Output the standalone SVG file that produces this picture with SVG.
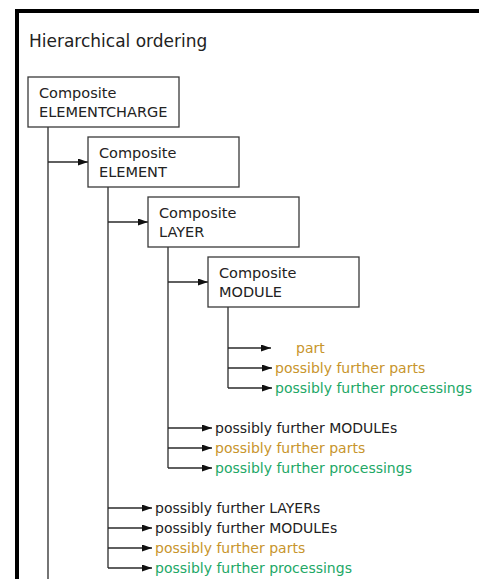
<svg xmlns="http://www.w3.org/2000/svg" width="479" height="579" viewBox="0 0 479 579">
<style>
text{font-family:"DejaVu Sans","Liberation Sans",sans-serif;font-size:14px;fill:#222}
.title{font-size:17px}
.box rect{fill:#fff;stroke:#3a3a3a;stroke-width:1.3}
.box text{font-size:14.5px}
.c{fill:none;stroke:#2a2a2a;stroke-width:1.3}
.a{marker-end:url(#ah)}
.gold{fill:#c8952c}
.green{fill:#22a866}
</style>
<defs>
<marker id="ah" markerUnits="userSpaceOnUse" markerWidth="11" markerHeight="8" refX="10" refY="3.5" orient="auto">
<path d="M0,0 L10,3.5 L0,7 z" fill="#111"/>
</marker>
</defs>
<rect x="0" y="0" width="479" height="579" fill="#fff"/>
<rect x="17" y="11" width="520" height="620" fill="none" stroke="#000" stroke-width="4"/>
<text class="title" x="29" y="47">Hierarchical ordering</text>

<g id="connectors">
<path class="c" d="M48,127 V579"/>
<path class="c a" d="M48,162 H88"/>
<path class="c" d="M108,187 V568"/>
<path class="c a" d="M108,222 H148"/>
<path class="c a" d="M108,508 H152"/>
<path class="c a" d="M108,528 H152"/>
<path class="c a" d="M108,548 H152"/>
<path class="c a" d="M108,568 H152"/>
<path class="c" d="M168,247 V468"/>
<path class="c a" d="M168,282 H208"/>
<path class="c a" d="M168,428 H212"/>
<path class="c a" d="M168,448 H212"/>
<path class="c a" d="M168,468 H212"/>
<path class="c" d="M228,307 V388"/>
<path class="c a" d="M228,348 H271"/>
<path class="c a" d="M228,368 H272"/>
<path class="c a" d="M228,388 H272"/>
</g>

<g id="elementcharge" class="box">
<rect x="28" y="77" width="151" height="50"/>
<text x="39" y="98">Composite</text>
<text x="39" y="117">ELEMENTCHARGE</text>
</g>
<g id="element" class="box">
<rect x="88" y="137" width="151" height="50"/>
<text x="99" y="158">Composite</text>
<text x="99" y="177">ELEMENT</text>
</g>
<g id="layer" class="box">
<rect x="148" y="197" width="151" height="50"/>
<text x="159" y="218">Composite</text>
<text x="159" y="237">LAYER</text>
</g>
<g id="module" class="box">
<rect x="208" y="257" width="151" height="50"/>
<text x="219" y="278">Composite</text>
<text x="219" y="297">MODULE</text>
</g>

<g id="module-items">
<text class="gold" x="296" y="353">part</text>
<text class="gold" x="275" y="373">possibly further parts</text>
<text class="green" x="275" y="393">possibly further processings</text>
</g>
<g id="layer-items">
<text x="215" y="433">possibly further MODULEs</text>
<text class="gold" x="215" y="453">possibly further parts</text>
<text class="green" x="215" y="473">possibly further processings</text>
</g>
<g id="element-items">
<text x="155" y="513">possibly further LAYERs</text>
<text x="155" y="533">possibly further MODULEs</text>
<text class="gold" x="155" y="553">possibly further parts</text>
<text class="green" x="155" y="573">possibly further processings</text>
</g>
</svg>
